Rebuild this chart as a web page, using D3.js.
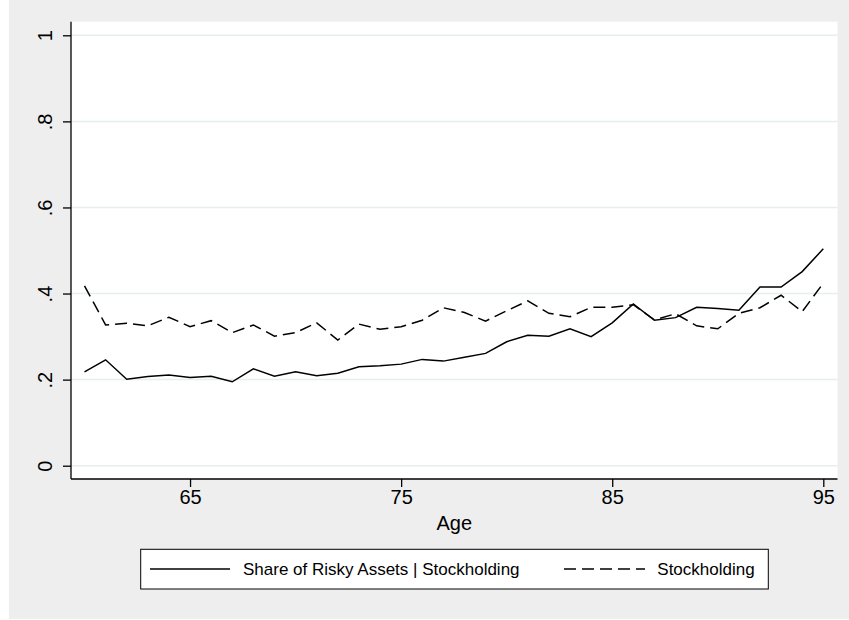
<!DOCTYPE html>
<html>
<head>
<meta charset="utf-8">
<script src="https://cdn.jsdelivr.net/npm/d3@7"></script>
<style>
  html, body { margin: 0; padding: 0; background: #ffffff; }
  svg { display: block; font-family: "Liberation Sans", Arial, Helvetica, sans-serif; }
</style>
</head>
<body>
<svg id="chart" width="849" height="620"></svg>
<script>
// ---- Data ----
const ages = [60,61,62,63,64,65,66,67,68,69,70,71,72,73,74,75,76,77,78,79,80,81,82,83,84,85,86,87,88,89,90,91,92,93,94,95];
const shareRisky = [0.218,0.246,0.201,0.207,0.211,0.205,0.208,0.195,0.225,0.208,0.218,0.209,0.215,0.230,0.232,0.236,0.247,0.243,0.252,0.261,0.288,0.303,0.301,0.318,0.300,0.332,0.376,0.338,0.344,0.368,0.365,0.361,0.415,0.415,0.451,0.504];
const stockholding = [0.418,0.327,0.331,0.325,0.345,0.323,0.337,0.309,0.327,0.301,0.309,0.332,0.292,0.329,0.317,0.323,0.338,0.367,0.356,0.336,0.360,0.383,0.354,0.346,0.368,0.368,0.374,0.339,0.353,0.325,0.318,0.354,0.367,0.396,0.358,0.424];
const xTicks = [65, 75, 85, 95];
const yTicks = [0, 0.2, 0.4, 0.6, 0.8, 1];
const yTickLabels = ["0", ".2", ".4", ".6", ".8", "1"];
const seriesNames = ["Share of Risky Assets | Stockholding", "Stockholding"];
const xTitle = "Age";

// ---- Layout ----
const svg = d3.select("#chart");
const plot = { left: 71, right: 837.5, top: 21.7, bottom: 479 };

svg.append("rect").attr("x", 9).attr("y", 0).attr("width", 840).attr("height", 619).attr("fill", "#eeeeee");
svg.append("rect").attr("x", plot.left).attr("y", plot.top)
  .attr("width", plot.right - plot.left).attr("height", plot.bottom - plot.top).attr("fill", "#ffffff");

const x = d3.scaleLinear().domain([60, 95]).range([84.5, 823.3]);
const y = d3.scaleLinear().domain([0, 1]).range([465.7, 35.3]);

// gridlines
svg.append("g").selectAll("line").data(yTicks).join("line")
  .attr("x1", plot.left).attr("x2", plot.right)
  .attr("y1", d => y(d)).attr("y2", d => y(d))
  .attr("stroke", "#e6eef0").attr("stroke-width", 1.5);

// lines
const lineGen = d3.line().x((d, i) => x(ages[i])).y(d => y(d));
svg.append("path").datum(shareRisky).attr("d", lineGen)
  .attr("fill", "none").attr("stroke", "#000").attr("stroke-width", 1.5).attr("stroke-linejoin", "miter");
svg.append("path").datum(stockholding).attr("d", lineGen)
  .attr("fill", "none").attr("stroke", "#000").attr("stroke-width", 1.5)
  .attr("stroke-dasharray", "12,6");

// Y axis
const yAxis = d3.axisLeft(y).tickValues(yTicks).tickSize(8).tickPadding(0)
  .tickFormat((d, i) => yTickLabels[i]);
const gy = svg.append("g").attr("transform", `translate(${plot.left},0)`).call(yAxis);
gy.select(".domain").attr("d", `M0,${plot.top}V${plot.bottom}`).attr("stroke", "#000").attr("stroke-width", 1.3);
gy.selectAll(".tick line").attr("stroke", "#000").attr("stroke-width", 1.3);
gy.selectAll(".tick text")
  .attr("x", null).attr("dy", null)
  .attr("transform", "translate(-19,0) rotate(-90)")
  .attr("text-anchor", "middle")
  .attr("font-size", 20).attr("fill", "#000")
  .attr("font-family", "Liberation Sans, Arial, sans-serif");

// X axis
const xAxis = d3.axisBottom(x).tickValues(xTicks).tickSize(8).tickPadding(3).tickFormat(d3.format("d"));
const gx = svg.append("g").attr("transform", `translate(0,${plot.bottom})`).call(xAxis);
gx.select(".domain").attr("d", `M${plot.left},0H${plot.right}`).attr("stroke", "#000").attr("stroke-width", 1.3);
gx.selectAll(".tick line").attr("stroke", "#000").attr("stroke-width", 1.3);
gx.selectAll(".tick text").attr("font-size", 20).attr("fill", "#000")
  .attr("font-family", "Liberation Sans, Arial, sans-serif");

svg.append("text").attr("x", (plot.left + plot.right) / 2).attr("y", 530)
  .attr("text-anchor", "middle").attr("font-size", 20).attr("fill", "#000").text(xTitle);

// Legend
const lg = svg.append("g");
lg.append("rect").attr("x", 140.7).attr("y", 549.3).attr("width", 627.6).attr("height", 39.7)
  .attr("fill", "#fff").attr("stroke", "#000").attr("stroke-width", 1);
lg.append("line").attr("x1", 150).attr("x2", 230).attr("y1", 569).attr("y2", 569)
  .attr("stroke", "#000").attr("stroke-width", 1.5);
lg.append("text").attr("x", 243).attr("y", 575).attr("font-size", 17).attr("fill", "#000").text(seriesNames[0]);
lg.append("line").attr("x1", 564).attr("x2", 645).attr("y1", 569).attr("y2", 569)
  .attr("stroke", "#000").attr("stroke-width", 1.5).attr("stroke-dasharray", "12,6");
lg.append("text").attr("x", 657.3).attr("y", 575).attr("font-size", 17).attr("fill", "#000").text(seriesNames[1]);
</script>
</body>
</html>
